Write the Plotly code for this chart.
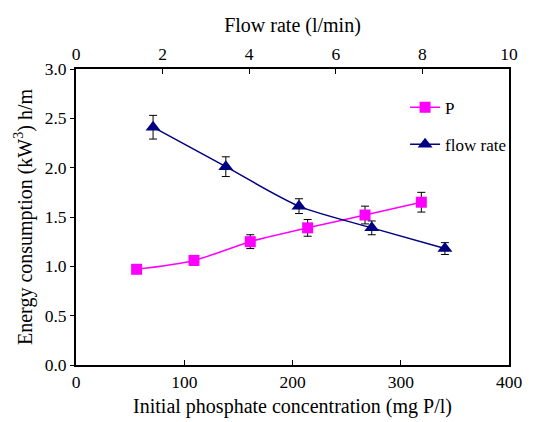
import plotly.graph_objects as go

# Phosphate series (bottom axis)
p_conc = [56, 109, 161, 214, 267, 319]
p_energy = [0.97, 1.06, 1.25, 1.39, 1.52, 1.65]
p_err = [0.04, 0.05, 0.07, 0.085, 0.09, 0.10]

# Flow-rate series (top axis)
flow = [1.78, 3.46, 5.15, 6.83, 8.52]
flow_energy = [2.41, 2.01, 1.61, 1.39, 1.18]
flow_err = [0.12, 0.10, 0.075, 0.07, 0.06]

x_ticks = [0, 100, 200, 300, 400]
x2_ticks = [0, 2, 4, 6, 8, 10]
y_ticks = [0.0, 0.5, 1.0, 1.5, 2.0, 2.5, 3.0]

FONT = "Times New Roman, Liberation Serif, serif"

fig = go.Figure()

fig.add_trace(go.Scatter(
    x=p_conc, y=p_energy, name="P", legendgroup="a",
    mode="lines+markers",
    line=dict(color="#ff00ff", width=1.5, shape="spline", smoothing=0.8),
    marker=dict(symbol="square", size=11, color="#ff00ff"),
    error_y=dict(type="data", array=p_err, color="black", thickness=1, width=4),
    xaxis="x", yaxis="y",
))

fig.add_trace(go.Scatter(
    x=flow, y=flow_energy, name="flow rate", legendgroup="b",
    mode="lines+markers",
    line=dict(color="#000080", width=1.5, shape="spline", smoothing=0.8),
    marker=dict(symbol="triangle-up", size=13, color="#000080"),
    error_y=dict(type="data", array=flow_err, color="black", thickness=1, width=4),
    xaxis="x2", yaxis="y",
))

axis_font = dict(family=FONT, size=17.5, color="black")
title_font = dict(family=FONT, size=20, color="black")

fig.update_layout(
    width=550, height=422,
    margin=dict(l=76, r=41, t=69, b=57),
    paper_bgcolor="white", plot_bgcolor="white",
    font=dict(family=FONT, color="black"),
    showlegend=True,
    legend=dict(
        x=0.76, y=0.93, xanchor="left", yanchor="top",
        font=dict(family=FONT, size=17, color="black"),
        bgcolor="rgba(0,0,0,0)", tracegroupgap=12,
    ),
    xaxis=dict(
        range=[0, 400], tickvals=x_ticks, ticktext=[str(v) for v in x_ticks],
        showgrid=False, zeroline=False, automargin=False,
        showline=True, linecolor="black", linewidth=2,
        ticks="inside", ticklen=5, tickcolor="black", tickwidth=1,
        tickfont=axis_font,
        title=dict(text="Initial phosphate concentration (mg P/l)", font=title_font, standoff=8),
    ),
    xaxis2=dict(
        range=[0, 10], tickvals=x2_ticks, ticktext=[str(v) for v in x2_ticks],
        overlaying="x", side="top", anchor="y",
        showgrid=False, zeroline=False, automargin=False,
        showline=True, linecolor="black", linewidth=2,
        ticks="inside", ticklen=5, tickcolor="black", tickwidth=1,
        tickfont=axis_font,
        title=dict(text="Flow rate (l/min)", font=title_font, standoff=6),
    ),
    yaxis=dict(
        range=[0, 3.0], tickvals=y_ticks, ticktext=[f"{v:.1f}" for v in y_ticks],
        showgrid=False, zeroline=False, automargin=False,
        showline=True, linecolor="black", linewidth=2, mirror=True,
        ticks="outside", ticklen=4, tickcolor="black", tickwidth=1,
        tickfont=axis_font,
        title=dict(text="Energy consumption (kW<sup>3</sup>) h/m", font=title_font, standoff=7),
    ),
)

fig.write_html("out.html")
